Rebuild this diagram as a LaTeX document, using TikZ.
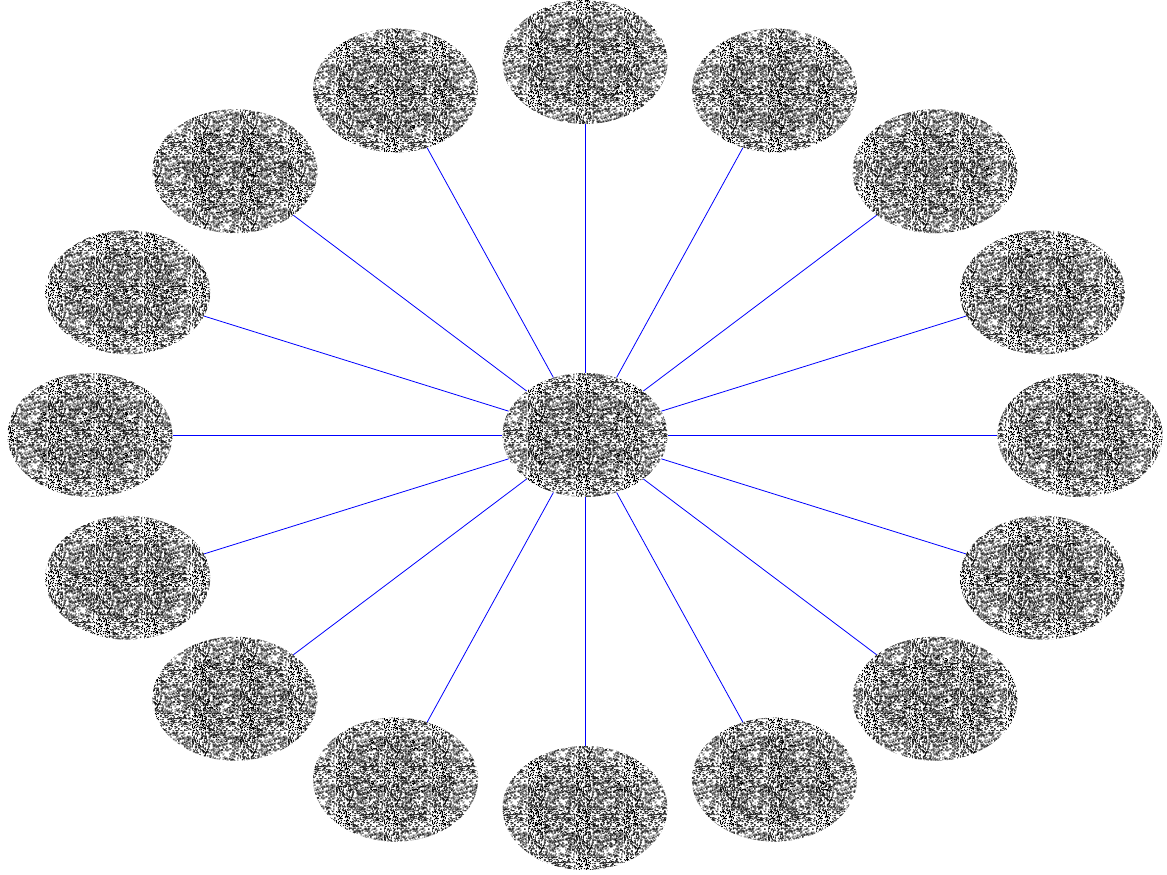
\documentclass[tikz,border=0pt]{standalone}
\usetikzlibrary{shapes.geometric,patterns}
\pgfdeclarepatternformonly{noiseA}{\pgfpointorigin}{\pgfqpoint{48pt}{48pt}}{\pgfqpoint{48pt}{48pt}}{%
  \pgfmathsetseed{4711}%
  \foreach \k in {1,...,1000}{%
    \pgfmathrandominteger{\rx}{0}{47}%
    \pgfmathrandominteger{\ry}{0}{47}%
    \pgfpathrectangle{\pgfqpoint{\rx pt}{\ry pt}}{\pgfqpoint{1pt}{1pt}}%
    \pgfusepath{fill}%
  }%
}
\pgfdeclarepatternformonly{noiseB}{\pgfpointorigin}{\pgfqpoint{41pt}{41pt}}{\pgfqpoint{41pt}{41pt}}{%
  \pgfmathsetseed{917}%
  \foreach \k in {1,...,240}{%
    \pgfmathrandominteger{\rx}{0}{40}%
    \pgfmathrandominteger{\ry}{0}{40}%
    \pgfpathrectangle{\pgfqpoint{\rx pt}{\ry pt}}{\pgfqpoint{1pt}{1pt}}%
    \pgfusepath{fill}%
  }%
}
\tikzset{
  blob/.style={ellipse, minimum width=165pt, minimum height=124pt, inner sep=0pt,
    pattern=noiseA, pattern color=black},
  core/.style={ellipse, minimum width=118pt, minimum height=88pt, inner sep=0pt,
    pattern=noiseB, pattern color=black},
  edge/.style={draw=blue, line width=0.8pt}
}
\begin{document}
\begin{tikzpicture}[x=1pt,y=-1pt]
\useasboundingbox[fill=white] (0,0) rectangle (1167,875);
\node[blob] (c) at (585,435) {};
\node[core] (cc) at (c.center) {};
\foreach \i in {0,...,15}{
  \node[blob] (n\i) at ({585+495*cos(22.5*\i)},{435-373*sin(22.5*\i)}) {};
  \node[core] (m\i) at (n\i.center) {};
}
\foreach \i in {0,...,15}
  \draw[edge] (c) -- (n\i);
\end{tikzpicture}
\end{document}
